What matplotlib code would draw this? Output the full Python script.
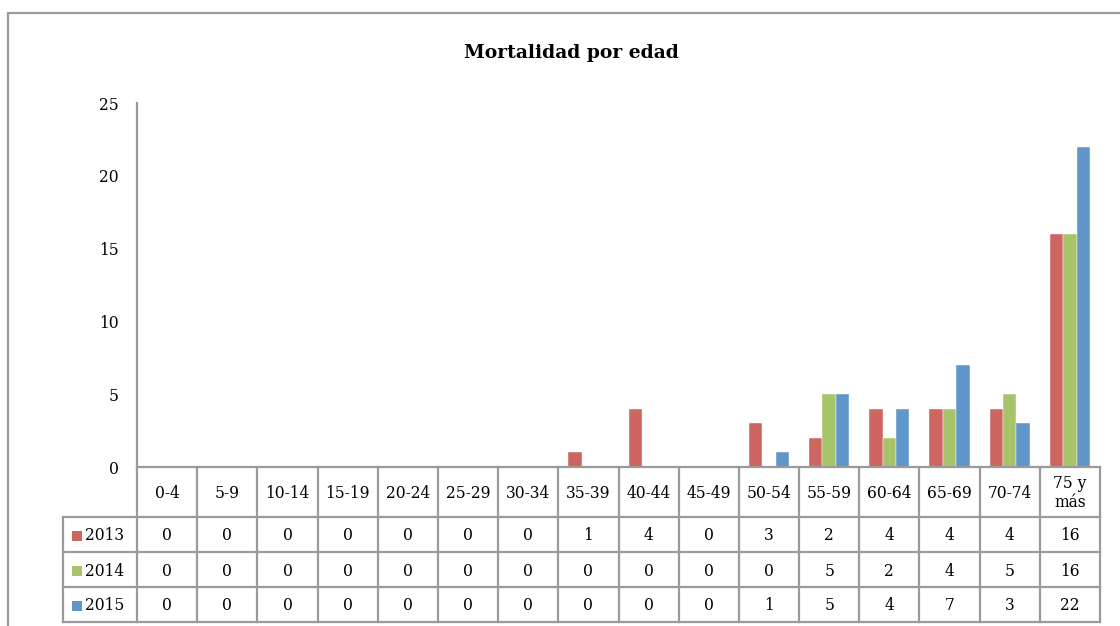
import matplotlib
matplotlib.use("Agg")
import matplotlib.pyplot as plt
from matplotlib.lines import Line2D
from matplotlib.patches import Rectangle
import numpy as np

categories = ["0-4", "5-9", "10-14", "15-19", "20-24", "25-29", "30-34", "35-39",
              "40-44", "45-49", "50-54", "55-59", "60-64", "65-69", "70-74", "75 y\nmás"]
series_names = ["2013", "2014", "2015"]
v2013 = [0, 0, 0, 0, 0, 0, 0, 1, 4, 0, 3, 2, 4, 4, 4, 16]
v2014 = [0, 0, 0, 0, 0, 0, 0, 0, 0, 0, 0, 5, 2, 4, 5, 16]
v2015 = [0, 0, 0, 0, 0, 0, 0, 0, 0, 0, 1, 5, 4, 7, 3, 22]
series_values = [v2013, v2014, v2015]
colors = ["#CD6560", "#A8C46B", "#6096CA"]
yticks = [0, 5, 10, 15, 20, 25]
title = "Mortalidad por edad"

W, H = 1120, 626
FONT = ["DejaVu Serif"]
plt.rcParams["font.family"] = FONT

fig = plt.figure(figsize=(W / 100, H / 100), dpi=100)

def fx(px):
    return px / W

def fy(py):
    return 1 - py / H

gray = "#9A9A9A"
FS = 11.2

# outer chart border
fig.patches.append(Rectangle((fx(8), fy(700)), fx(1200), fy(13) - fy(700),
                             transform=fig.transFigure, fill=False,
                             edgecolor=gray, linewidth=1.6))

# plot area
x_left, x_right, y_top, y_bot = 137, 1100, 103, 467
ax = fig.add_axes([fx(x_left), fy(y_bot), fx(x_right - x_left), fy(y_top) - fy(y_bot)])
n = len(categories)
x = np.arange(n)
bw = 0.222
for i, (name, vals) in enumerate(zip(series_names, series_values)):
    ax.bar(x + (i - 1) * bw, vals, width=bw, color=colors[i],
           edgecolor="white", linewidth=0.3, label=name)
ax.set_xlim(-0.5, n - 0.5)
ax.set_ylim(0, 25)
ax.set_yticks(yticks)
ax.set_yticklabels([str(t) for t in yticks], fontsize=FS, va="center_baseline")
ax.tick_params(axis="y", length=0, pad=13)
ax.tick_params(axis="x", length=0, labelbottom=False)
for s in ["top", "right", "bottom"]:
    ax.spines[s].set_visible(False)
ax.spines["left"].set_color(gray)
ax.spines["left"].set_linewidth(1.6)
ax.patch.set_alpha(0)

fig.text(fx(571), fy(53), title, ha="center", va="center",
         fontsize=13.5, fontweight="bold")

# data table
col_w = (x_right - x_left) / n
row_edges = [467, 517, 552, 587, 622]
hdr_left = 63

def hline(y, x0, x1):
    fig.lines.append(Line2D([fx(x0), fx(x1)], [fy(y), fy(y)], transform=fig.transFigure,
                            color=gray, linewidth=1.6))

def vline(xp, y0, y1):
    fig.lines.append(Line2D([fx(xp), fx(xp)], [fy(y0), fy(y1)], transform=fig.transFigure,
                            color=gray, linewidth=1.6))

hline(row_edges[0], x_left, x_right)
for y in row_edges[1:]:
    hline(y, hdr_left, x_right)
for j in range(n + 1):
    vline(x_left + j * col_w, row_edges[0], row_edges[-1])
vline(hdr_left, row_edges[1], row_edges[-1])

for j, c in enumerate(categories):
    cx = x_left + (j + 0.5) * col_w
    cy = (row_edges[0] + row_edges[1]) / 2 + 1
    fig.text(fx(cx), fy(cy), c, ha="center", va="center", fontsize=FS,
             linespacing=1.2)

for i, (name, vals) in enumerate(zip(series_names, series_values)):
    y0, y1 = row_edges[i + 1], row_edges[i + 2]
    cy = (y0 + y1) / 2 + 1.5
    fig.patches.append(Rectangle((fx(72), fy(cy + 5)), fx(10), fy(cy - 5) - fy(cy + 5),
                                 transform=fig.transFigure, facecolor=colors[i],
                                 edgecolor="none"))
    fig.text(fx(85), fy(cy), name, ha="left", va="center", fontsize=FS)
    for j, v in enumerate(vals):
        cx = x_left + (j + 0.5) * col_w
        fig.text(fx(cx), fy(cy), str(v), ha="center", va="center", fontsize=FS)

fig.savefig("out.png", dpi=100)
